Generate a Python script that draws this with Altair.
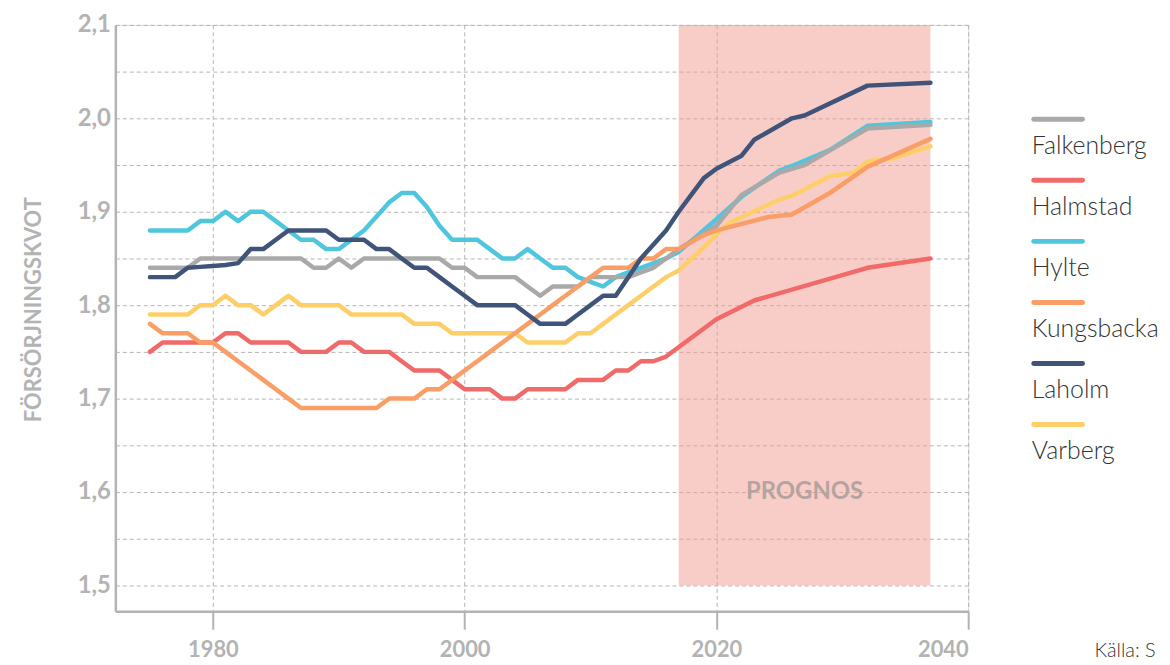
import altair as alt
import pandas as pd

# ---------------- data ----------------
names = ["Falkenberg", "Halmstad", "Hylte", "Kungsbacka", "Laholm", "Varberg"]
colors = ["#a9a9a9", "#f06a6a", "#4fc6de", "#f89e66", "#3f5478", "#fecf69"]
draw_order = ["Hylte", "Falkenberg", "Halmstad", "Varberg", "Kungsbacka", "Laholm"]

hist_years = list(range(1975, 2017))

falkenberg_hist = [1.84, 1.84, 1.84, 1.84, 1.85, 1.85, 1.85, 1.85, 1.85, 1.85,
                   1.85, 1.85, 1.85, 1.84, 1.84, 1.85, 1.84, 1.85, 1.85, 1.85,
                   1.85, 1.85, 1.85, 1.85, 1.84, 1.84, 1.83, 1.83, 1.83, 1.83,
                   1.82, 1.81, 1.82, 1.82, 1.82, 1.83, 1.83, 1.83, 1.83, 1.835,
                   1.84, 1.85]
halmstad_hist = [1.75, 1.76, 1.76, 1.76, 1.76, 1.76, 1.77, 1.77, 1.76, 1.76,
                 1.76, 1.76, 1.75, 1.75, 1.75, 1.76, 1.76, 1.75, 1.75, 1.75,
                 1.74, 1.73, 1.73, 1.73, 1.72, 1.71, 1.71, 1.71, 1.70, 1.70,
                 1.71, 1.71, 1.71, 1.71, 1.72, 1.72, 1.72, 1.73, 1.73, 1.74,
                 1.74, 1.745]
hylte_hist = [1.88, 1.88, 1.88, 1.88, 1.89, 1.89, 1.90, 1.89, 1.90, 1.90,
              1.89, 1.88, 1.87, 1.87, 1.86, 1.86, 1.87, 1.88, 1.895, 1.91,
              1.92, 1.92, 1.905, 1.885, 1.87, 1.87, 1.87, 1.86, 1.85, 1.85,
              1.86, 1.85, 1.84, 1.84, 1.83, 1.825, 1.82, 1.83, 1.835, 1.84,
              1.845, 1.85]
kungsbacka_hist = [1.78, 1.77, 1.77, 1.77, 1.76, 1.76, 1.75, 1.74, 1.73, 1.72,
                   1.71, 1.70, 1.69, 1.69, 1.69, 1.69, 1.69, 1.69, 1.69, 1.70,
                   1.70, 1.70, 1.71, 1.71, 1.72, 1.73, 1.74, 1.75, 1.76, 1.77,
                   1.78, 1.79, 1.80, 1.81, 1.82, 1.83, 1.84, 1.84, 1.84, 1.85,
                   1.85, 1.86]
laholm_hist = [1.83, 1.83, 1.83, 1.84, 1.841, 1.842, 1.843, 1.845, 1.86, 1.86,
               1.87, 1.88, 1.88, 1.88, 1.88, 1.87, 1.87, 1.87, 1.86, 1.86,
               1.85, 1.84, 1.84, 1.83, 1.82, 1.81, 1.80, 1.80, 1.80, 1.80,
               1.79, 1.78, 1.78, 1.78, 1.79, 1.80, 1.81, 1.81, 1.83, 1.85,
               1.865, 1.88]
varberg_hist = [1.79, 1.79, 1.79, 1.79, 1.80, 1.80, 1.81, 1.80, 1.80, 1.79,
                1.80, 1.81, 1.80, 1.80, 1.80, 1.80, 1.79, 1.79, 1.79, 1.79,
                1.79, 1.78, 1.78, 1.78, 1.77, 1.77, 1.77, 1.77, 1.77, 1.77,
                1.76, 1.76, 1.76, 1.76, 1.77, 1.77, 1.78, 1.79, 1.80, 1.81,
                1.82, 1.83]

# projection (prognos) points
falkenberg_proj_years = [2017, 2020, 2022, 2025, 2027, 2032, 2037]
falkenberg_proj = [1.86, 1.885, 1.918, 1.942, 1.95, 1.989, 1.993]
halmstad_proj_years = [2020, 2023, 2032, 2037]
halmstad_proj = [1.785, 1.805, 1.84, 1.85]
hylte_proj_years = [2017, 2020, 2022, 2024, 2025, 2026, 2029, 2032, 2037]
hylte_proj = [1.857, 1.892, 1.916, 1.935, 1.944, 1.949, 1.966, 1.992, 1.996]
kungsbacka_proj_years = [2017, 2019, 2020, 2024, 2026, 2029, 2032, 2037]
kungsbacka_proj = [1.86, 1.875, 1.88, 1.894, 1.897, 1.92, 1.948, 1.978]
laholm_proj_years = [2017, 2018, 2019, 2020, 2022, 2023, 2026, 2027, 2032, 2037]
laholm_proj = [1.90, 1.918, 1.936, 1.946, 1.96, 1.977, 2.0, 2.003, 2.035, 2.038]
varberg_proj_years = [2017, 2019, 2020, 2021, 2025, 2026, 2029, 2031, 2032, 2034, 2037]
varberg_proj = [1.837, 1.862, 1.876, 1.888, 1.913, 1.917, 1.938, 1.942, 1.954, 1.957, 1.97]

prognos_start, prognos_end = 2017, 2037
prognos_low, prognos_high = 1.5, 2.1

x_ticks = [1980, 2000, 2020, 2040]
y_ticks = [1.5, 1.55, 1.6, 1.65, 1.7, 1.75, 1.8, 1.85, 1.9, 1.95, 2.0, 2.05, 2.1]
x_domain = [1972.25, 2040]
y_domain = [1.4723, 2.1]

source_text = "Källa: SCB"

# ---------------- build table ----------------
hist = {"Falkenberg": falkenberg_hist, "Halmstad": halmstad_hist, "Hylte": hylte_hist,
        "Kungsbacka": kungsbacka_hist, "Laholm": laholm_hist, "Varberg": varberg_hist}
proj = {"Falkenberg": (falkenberg_proj_years, falkenberg_proj),
        "Halmstad": (halmstad_proj_years, halmstad_proj),
        "Hylte": (hylte_proj_years, hylte_proj),
        "Kungsbacka": (kungsbacka_proj_years, kungsbacka_proj),
        "Laholm": (laholm_proj_years, laholm_proj),
        "Varberg": (varberg_proj_years, varberg_proj)}
rows = []
for n in names:
    for yr, v in zip(hist_years, hist[n]):
        rows.append({"name": n, "year": yr, "value": v})
    for yr, v in zip(*proj[n]):
        rows.append({"name": n, "year": yr, "value": v})
df = pd.DataFrame(rows)

GRAY = "#b3b3b3"
FONT = "Lato"

x_scale = alt.Scale(domain=x_domain, nice=False, zero=False)
y_scale = alt.Scale(domain=y_domain, nice=False, zero=False)

x_axis = alt.Axis(values=x_ticks, format="d", title=None, grid=True,
                  gridDash=[4, 3], gridColor=GRAY, gridWidth=1,
                  domainColor=GRAY, domainWidth=2.5,
                  ticks=True, tickSize=18, tickColor=GRAY, tickWidth=2,
                  labelFont=FONT, labelFontSize=22, labelFontWeight="bold",
                  labelColor=GRAY, labelPadding=10)
y_axis = alt.Axis(values=y_ticks, title="FÖRSÖRJNINGSKVOT", grid=True,
                  gridDash=[4, 3], gridColor=GRAY, gridWidth=1,
                  domainColor=GRAY, domainWidth=2.5, ticks=False,
                  labelExpr="(round(datum.value*100) % 10 == 0) ? replace(format(datum.value, '.1f'), '.', ',') : ''",
                  labelFont=FONT, labelFontSize=24, labelFontWeight="bold",
                  labelColor=GRAY, labelPadding=5,
                  titleFont=FONT, titleFontSize=22, titleFontWeight="bold",
                  titleColor=GRAY, titlePadding=32, titleY=286)

prog_df = pd.DataFrame({"x1": [prognos_start], "x2": [prognos_end],
                        "y1": [prognos_low], "y2": [prognos_high],
                        "xm": [(prognos_start + prognos_end) / 2],
                        "ym": [1.6], "label": ["PROGNOS"]})

rect = alt.Chart(prog_df).mark_rect(color="#f39c8f", opacity=0.5).encode(
    x=alt.X("x1:Q", scale=x_scale, axis=x_axis),
    x2="x2:Q",
    y=alt.Y("y1:Q", scale=y_scale, axis=y_axis),
    y2="y2:Q",
)

line_layers = []
for n in draw_order:
    c = colors[names.index(n)]
    line_layers.append(
        alt.Chart(df).transform_filter(alt.datum.name == n)
        .mark_line(color=c, strokeWidth=4.5, strokeJoin="round", strokeCap="round")
        .encode(x=alt.X("year:Q", scale=x_scale, axis=x_axis),
                y=alt.Y("value:Q", scale=y_scale, axis=y_axis))
    )

prog_text = alt.Chart(prog_df).mark_text(font=FONT, fontSize=24, fontWeight="bold",
                                         color="#b4a4a1").encode(
    x=alt.X("xm:Q", scale=x_scale, axis=x_axis),
    y=alt.Y("ym:Q", scale=y_scale, axis=y_axis),
    text="label:N",
)

main = alt.layer(rect, *line_layers, prog_text)

leg_df = pd.DataFrame({"name": names})
leg_y = alt.Y("name:N", scale=alt.Scale(domain=names, range=[64.3, 432.7]), axis=None)
leg_color = alt.Color("name:N", scale=alt.Scale(domain=names, range=colors), legend=None)
leg_rules = alt.Chart(leg_df).mark_rule(strokeWidth=5, strokeCap="round").encode(
    x=alt.value(924), x2=alt.value(973), y=leg_y, color=leg_color)
leg_text = alt.Chart(leg_df).mark_text(align="left", baseline="middle", dy=27,
                                       font=FONT, fontSize=25, fontWeight=300,
                                       color="#333333").encode(
    x=alt.value(922), y=leg_y, text="name:N")
legend = alt.layer(leg_rules, leg_text)

src = alt.Chart(pd.DataFrame({"t": [source_text]})).mark_text(
    align="left", baseline="middle", font=FONT, fontSize=20, fontWeight=300,
    color="#333333", limit=70, ellipsis=" ").encode(
    x=alt.value(985), y=alt.value(630), text="t:N")

chart = alt.layer(main, legend, src).resolve_scale(y="independent", color="independent").properties(
    width=858, height=590,
    padding={"left": 14, "top": 3, "right": 0, "bottom": 0},
).configure_view(stroke=None).configure(background="white")

chart.save("out.html", embed_options={"renderer": "svg", "actions": False})
